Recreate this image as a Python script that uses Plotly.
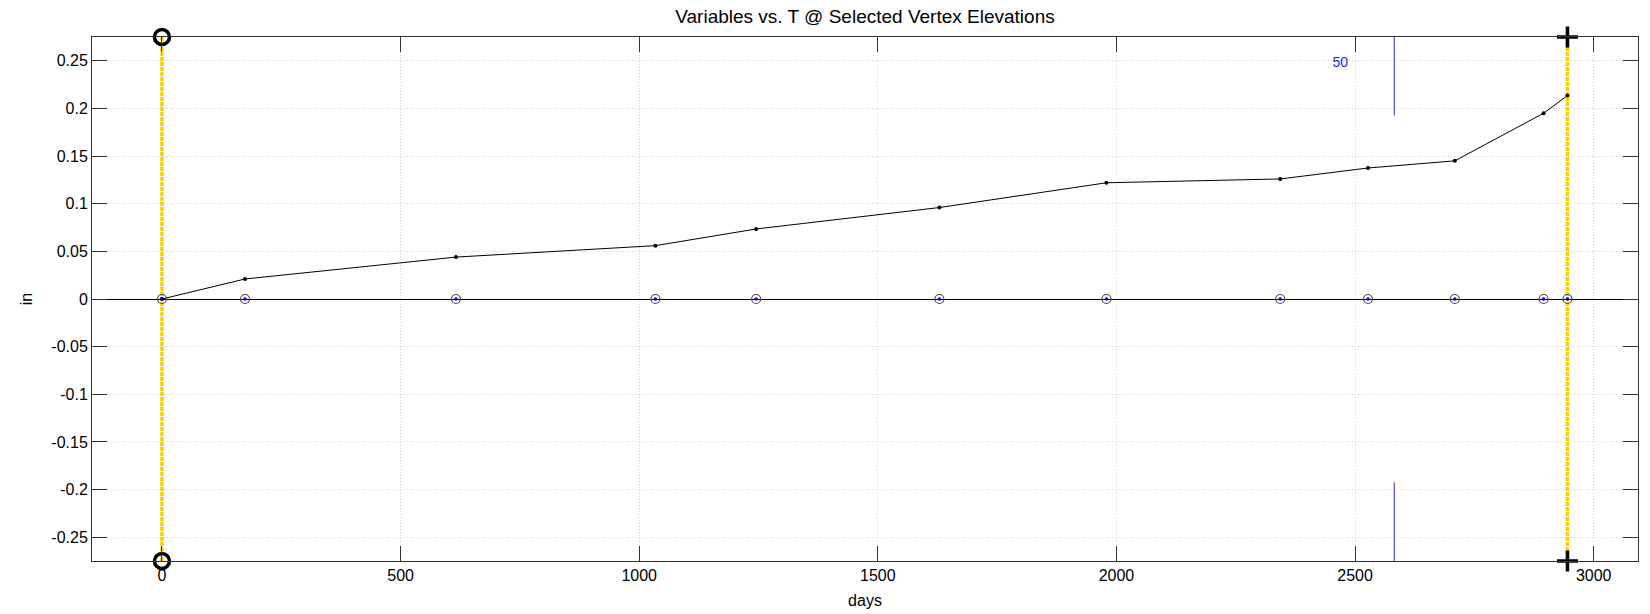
import plotly.graph_objects as go

# ---- data ----
days = [0, 174, 616, 1034, 1245, 1629, 1979, 2343, 2527, 2709, 2895, 2945]
values = [0, 0.021, 0.044, 0.056, 0.0735, 0.096, 0.122, 0.126, 0.1375, 0.145, 0.195, 0.2135]
zero_vals = [0] * len(days)

start_day = 0
end_day = 2945
y_limit = 0.275

marker_day = 2582
marker_inner = 0.1925
marker_label = "50"
marker_label_x = 2469
marker_label_y = 0.247

x_ticks = [0, 500, 1000, 1500, 2000, 2500, 3000]
x_ticklabels = ["0", "500", "1000", "1500", "2000", "2500", "3000"]
y_ticks = [-0.25, -0.2, -0.15, -0.1, -0.05, 0, 0.05, 0.1, 0.15, 0.2, 0.25]
y_ticklabels = ["-0.25", "-0.2", "-0.15", "-0.1", "-0.05", "0", "0.05", "0.1", "0.15", "0.2", "0.25"]

x_range = [-146.6, 3092.8]

FONT = "Liberation Sans, Arial"

fig = go.Figure()

# yellow time-window lines
for d in (start_day, end_day):
    fig.add_trace(go.Scatter(
        x=[d, d], y=[-y_limit, y_limit], mode="lines",
        line=dict(color="#FFCC00", width=3.5, dash="4px,1px"),
        hoverinfo="skip", showlegend=False))

# blue marker line (upper and lower parts)
fig.add_trace(go.Scatter(
    x=[marker_day, marker_day, None, marker_day, marker_day],
    y=[y_limit, marker_inner, None, -marker_inner, -y_limit],
    mode="lines", line=dict(color="#2a2ad0", width=1),
    hoverinfo="skip", showlegend=False))

# data line
fig.add_trace(go.Scatter(
    x=days, y=values, mode="lines+markers",
    line=dict(color="black", width=1),
    marker=dict(color="black", size=4),
    showlegend=False))

# circles on zero line
fig.add_trace(go.Scatter(
    x=days, y=zero_vals, mode="markers",
    marker=dict(symbol="circle-open", size=9, color="#4a4a4a", line=dict(width=1.2)),
    showlegend=False))
fig.add_trace(go.Scatter(
    x=days, y=zero_vals, mode="markers",
    marker=dict(symbol="circle", size=3.5, color="#0000ff"),
    showlegend=False))

# end markers
fig.add_trace(go.Scatter(
    x=[start_day, start_day], y=[y_limit, -y_limit], mode="markers",
    marker=dict(symbol="circle-open", size=15, color="black", line=dict(width=3.5)),
    cliponaxis=False, showlegend=False))
fig.add_trace(go.Scatter(
    x=[end_day, end_day], y=[y_limit, -y_limit], mode="markers",
    marker=dict(symbol="cross-thin-open", size=15, color="black", line=dict(width=3.5, color="black")),
    cliponaxis=False, showlegend=False))

# label
fig.add_trace(go.Scatter(
    x=[marker_label_x], y=[marker_label_y], mode="text", text=[marker_label],
    textfont=dict(color="#1a1aff", size=14, family=FONT),
    showlegend=False))

axis_common = dict(
    showline=True, linecolor="#333333", linewidth=1, mirror="ticks",
    ticks="inside", ticklen=15, tickcolor="#333333", tickwidth=1,
    showgrid=True, gridcolor="#d0d0d0", griddash="1px,2px", gridwidth=1,
    tickfont=dict(size=16, color="black", family=FONT),
    automargin=False,
)

fig.update_layout(
    width=1650, height=614,
    margin=dict(l=92, r=12, t=37, b=53),
    paper_bgcolor="white", plot_bgcolor="white",
    title=dict(text="Variables vs. T @ Selected Vertex Elevations",
               xref="paper", x=0.5, xanchor="center", y=0.973, yanchor="middle",
               font=dict(size=19, color="black", family=FONT)),
    xaxis=dict(range=x_range, tickvals=x_ticks, ticktext=x_ticklabels,
               zeroline=False,
               title=dict(text="days", standoff=11,
                          font=dict(size=16, color="black", family=FONT)),
               **axis_common),
    yaxis=dict(range=[-y_limit, y_limit], tickvals=y_ticks, ticktext=y_ticklabels,
               zeroline=True, zerolinecolor="black", zerolinewidth=1,
               title=dict(text="in", standoff=14,
                          font=dict(size=16, color="black", family=FONT)),
               **axis_common),
)

fig.write_html("out.html",
               config={"displayModeBar": False},
               post_script="document.body.style.margin='0';document.body.style.overflow='hidden';")
